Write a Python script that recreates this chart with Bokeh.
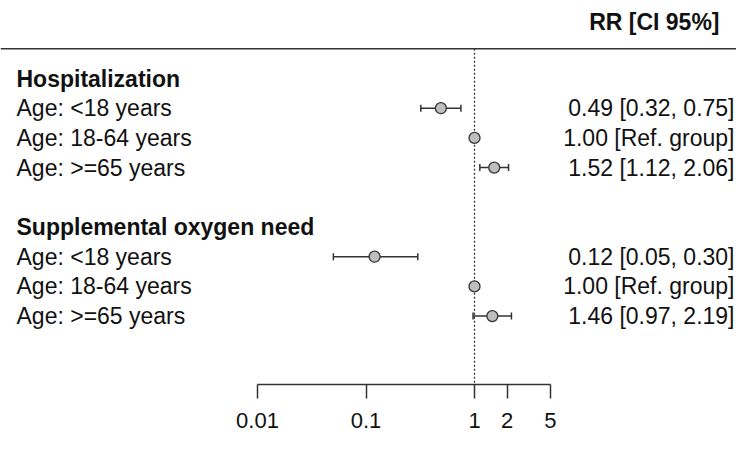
from bokeh.plotting import figure
from bokeh.models import (Range1d, FixedTicker, CustomJSTickFormatter, Span, Whisker,
                          ColumnDataSource, TeeHead)
from bokeh.core.properties import value
from bokeh.embed import file_html
from bokeh.resources import INLINE

# ---------------- data ----------------
groups = ["Hospitalization", "Supplemental oxygen need"]
age_labels = ["Age: <18 years", "Age: 18-64 years", "Age: >=65 years"]
hosp_rr = [0.49, 1.00, 1.52]
hosp_lo = [0.32, None, 1.12]
hosp_hi = [0.75, None, 2.06]
oxy_rr = [0.12, 1.00, 1.46]
oxy_lo = [0.05, None, 0.97]
oxy_hi = [0.30, None, 2.19]
ref_text = "Ref. group"
header_text = "RR [CI 95%]"
tick_values = [0.01, 0.1, 1, 2, 5]
axis_bounds = (0.01, 5)

series = [(hosp_rr, hosp_lo, hosp_hi), (oxy_rr, oxy_lo, oxy_hi)]

# ---------------- layout constants ----------------
W, H = 736, 438
BOTTOM = 54
FRAME_H = H - BOTTOM
DECADE_PX = 108.5
ONE_PX = 474
ROW_PX = 29.7
FIRST_ROW_PX = 78
FONT = value("Liberation Sans")
FS = "23px"
INK = "#111111"
LINE = "#333333"

x_range = Range1d(10 ** (-ONE_PX / DECADE_PX), 10 ** ((W - ONE_PX) / DECADE_PX))
y_range = Range1d((FRAME_H - FIRST_ROW_PX) / ROW_PX, -FIRST_ROW_PX / ROW_PX)

# build rows
head_y, head_t = [], []
lab_y, lab_t, pt_x, pt_y, rt_t = [], [], [], [], []
ci_y, ci_lo, ci_hi = [], [], []
k = 0
for g, (rr, lo, hi) in zip(groups, series):
    head_y.append(k); head_t.append(g)
    k += 1
    for lab, r, l, h in zip(age_labels, rr, lo, hi):
        lab_y.append(k); lab_t.append(lab)
        pt_x.append(r); pt_y.append(k)
        if l is None:
            rt_t.append(f"{r:.2f} [{ref_text}]")
        else:
            rt_t.append(f"{r:.2f} [{l:.2f}, {h:.2f}]")
            ci_y.append(k); ci_lo.append(l); ci_hi.append(h)
        k += 1
    k += 1

p = figure(width=W, height=H, x_axis_type="log",
           x_range=x_range, y_range=y_range, output_backend="svg",
           toolbar_location=None, min_border=0, min_border_bottom=BOTTOM,
           y_axis_location=None, outline_line_color=None)
p.grid.visible = False

# axis
ax = p.xaxis[0]
ax.ticker = FixedTicker(ticks=tick_values, minor_ticks=[])
ax.formatter = CustomJSTickFormatter(code="return tick.toString();")
ax.bounds = axis_bounds
ax.axis_line_color = LINE
ax.axis_line_width = 1.5
ax.major_tick_line_color = LINE
ax.major_tick_line_width = 1.5
ax.major_tick_in = 0
ax.major_tick_out = 14
ax.minor_tick_out = 0
ax.minor_tick_in = 0
ax.major_label_standoff = 14
ax.major_label_text_font = "Liberation Sans"
ax.major_label_text_font_size = "22px"
ax.major_label_text_color = INK

# top rule
p.add_layout(Span(location=-1, dimension="width", line_color=LINE, line_width=1.5))

# reference line at 1
p.segment(x0=[1], y0=[-1], x1=[1], y1=[y_range.start], line_color=LINE,
          line_width=1.3, line_dash="2 2")

# CIs
ci_src = ColumnDataSource(dict(y=ci_y, lo=ci_lo, hi=ci_hi))
wh = Whisker(source=ci_src, base="y", lower="lo", upper="hi", dimension="width",
             line_color=LINE, line_width=1.5,
             lower_head=TeeHead(size=7, line_color=LINE, line_width=1.5),
             upper_head=TeeHead(size=7, line_color=LINE, line_width=1.5),
             level="underlay")
p.add_layout(wh)

# points
p.scatter(x=pt_x, y=pt_y, size=11, fill_color="#BEBEBE", line_color=LINE, line_width=1.3)

# left texts
x0 = x_range.start
p.text(x=[x0] * len(head_y), y=head_y, text=head_t, x_offset=16, text_font=FONT,
       text_font_size=FS, text_font_style="bold", text_color=INK,
       text_baseline="middle", text_align="left")
p.text(x=[x0] * len(lab_y), y=lab_y, text=lab_t, x_offset=16, text_font=FONT,
       text_font_size=FS, text_color=INK, text_baseline="middle", text_align="left")

# right texts
x1 = x_range.end
p.text(x=[x1] * len(lab_y), y=lab_y, text=rt_t, x_offset=-2, text_font=FONT,
       text_font_size=FS, text_color=INK, text_baseline="middle", text_align="right")
p.text(x=[x1], y=[-1.9], text=[header_text], x_offset=-17,
       text_font=FONT, text_font_size=FS, text_font_style="bold", text_color=INK,
       text_baseline="middle", text_align="right")

open("out.html", "w").write(file_html(p, INLINE))
